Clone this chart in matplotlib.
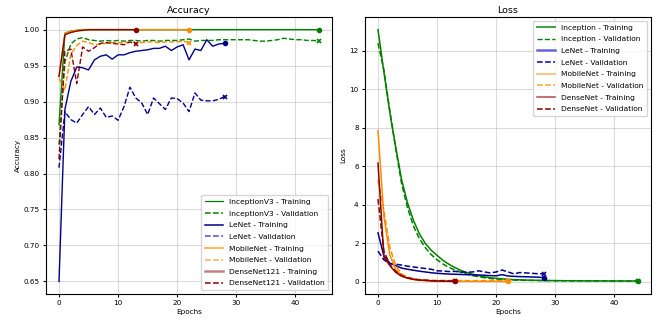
"""Accuracy / loss curves for the four CNN models."""

import matplotlib.pyplot as plt
from matplotlib.lines import Line2D

plt.rcParams["font.size"] = 5.2

# ---- accuracy ----
inc_train_acc = [0.868, 0.995, 0.998, 0.999] + [1.0] * 41
inc_val_acc = [
    0.840, 0.955, 0.980, 0.987, 0.989, 0.986, 0.985, 0.984, 0.985, 0.984,
    0.985, 0.984, 0.985, 0.985, 0.984, 0.985, 0.985, 0.984, 0.985, 0.985,
    0.985, 0.986, 0.987, 0.984, 0.985, 0.985, 0.985, 0.986, 0.986, 0.986,
    0.986, 0.986, 0.986, 0.985, 0.984, 0.984, 0.985, 0.986, 0.988, 0.987,
    0.986, 0.986, 0.985, 0.985, 0.984,
]
lenet_train_acc = [
    0.650, 0.889, 0.928, 0.948, 0.947, 0.944, 0.958, 0.963, 0.965, 0.959,
    0.965, 0.965, 0.968, 0.970, 0.971, 0.972, 0.974, 0.974, 0.977, 0.971,
    0.976, 0.979, 0.958, 0.973, 0.971, 0.986, 0.977, 0.980, 0.981,
]
lenet_val_acc = [
    0.808, 0.886, 0.875, 0.870, 0.882, 0.893, 0.882, 0.891, 0.878, 0.880,
    0.874, 0.893, 0.920, 0.905, 0.898, 0.882, 0.905, 0.897, 0.889, 0.905,
    0.904, 0.898, 0.886, 0.912, 0.902, 0.901, 0.901, 0.903, 0.907,
]
mobile_train_acc = [0.935, 0.995, 0.998, 0.999] + [1.0] * 19
mobile_val_acc = [
    0.932, 0.916, 0.966, 0.978, 0.984, 0.982, 0.979, 0.980, 0.981, 0.982,
    0.982, 0.982, 0.983, 0.982, 0.982, 0.983, 0.983, 0.982, 0.983, 0.983,
    0.983, 0.984, 0.982,
]
dense_train_acc = [0.935, 0.993, 0.996, 0.998, 0.999] + [1.0] * 9
dense_val_acc = [
    0.820, 0.970, 0.973, 0.925, 0.976, 0.970, 0.975, 0.981, 0.982, 0.981,
    0.980, 0.979, 0.983, 0.980,
]

# ---- loss ----
inc_train_loss = [
    13.1, 10.9, 8.8, 7.0, 5.3, 4.1, 3.2, 2.5, 2.0, 1.65,
    1.38, 1.12, 0.92, 0.75, 0.60, 0.49, 0.40, 0.33, 0.27, 0.22,
    0.19, 0.16, 0.14, 0.12, 0.11, 0.10, 0.09, 0.085, 0.08, 0.075,
    0.07, 0.068, 0.065, 0.063, 0.06, 0.058, 0.056, 0.055, 0.054, 0.053,
    0.052, 0.051, 0.05, 0.05, 0.05,
]
inc_val_loss = [
    12.4, 11.0, 8.9, 6.9, 5.1, 3.85, 2.9, 2.25, 1.78, 1.42,
    1.15, 0.93, 0.76, 0.62, 0.50, 0.41, 0.33, 0.27, 0.22, 0.18,
    0.15, 0.13, 0.11, 0.10, 0.09, 0.085, 0.08, 0.075, 0.07, 0.068,
    0.065, 0.063, 0.06, 0.058, 0.057, 0.056, 0.055, 0.055, 0.054, 0.054,
    0.053, 0.053, 0.052, 0.052, 0.052,
]
lenet_train_loss = [
    2.55, 1.35, 0.98, 0.85, 0.72, 0.66, 0.61, 0.56, 0.52, 0.48,
    0.45, 0.43, 0.41, 0.40, 0.39, 0.38, 0.37, 0.36, 0.35, 0.33,
    0.32, 0.38, 0.31, 0.29, 0.28, 0.27, 0.26, 0.25, 0.23,
]
lenet_val_loss = [
    1.60, 1.15, 0.95, 0.92, 0.88, 0.82, 0.78, 0.74, 0.70, 0.66,
    0.58, 0.57, 0.54, 0.55, 0.52, 0.50, 0.52, 0.58, 0.52, 0.47,
    0.52, 0.62, 0.52, 0.42, 0.49, 0.47, 0.45, 0.43, 0.42,
]
mobile_train_loss = [
    7.85, 3.4, 1.4, 0.65, 0.35, 0.2, 0.13, 0.09, 0.07, 0.06,
    0.05, 0.045, 0.04, 0.04, 0.035, 0.035, 0.03, 0.03, 0.03, 0.03,
    0.03, 0.03, 0.03,
]
mobile_val_loss = [
    5.3, 3.7, 1.8, 0.85, 0.42, 0.25, 0.17, 0.12, 0.10, 0.09,
    0.08, 0.08, 0.075, 0.075, 0.07, 0.07, 0.07, 0.07, 0.07, 0.07,
    0.07, 0.07, 0.07,
]
dense_train_loss = [6.17, 1.3, 0.85, 0.5, 0.3, 0.2, 0.14, 0.1, 0.08, 0.06, 0.05, 0.04, 0.035, 0.03]
dense_val_loss = [4.3, 1.6, 0.9, 0.55, 0.33, 0.22, 0.15, 0.11, 0.09, 0.07, 0.06, 0.055, 0.05, 0.05]

acc_names = ["InceptionV3", "LeNet", "MobileNet", "DenseNet121"]
loss_names = ["Inception", "LeNet", "MobileNet", "DenseNet"]
colors = ["green", "darkblue", "darkorange", "darkred"]

acc_series = [
    (inc_train_acc, inc_val_acc),
    (lenet_train_acc, lenet_val_acc),
    (mobile_train_acc, mobile_val_acc),
    (dense_train_acc, dense_val_acc),
]
loss_series = [
    (inc_train_loss, inc_val_loss),
    (lenet_train_loss, lenet_val_loss),
    (mobile_train_loss, mobile_val_loss),
    (dense_train_loss, dense_val_loss),
]

# legend handle looks (colour, linestyle, width, alpha)
acc_handles = [
    ("green", "-", 0.9, 1.0), ("green", "--", 1.1, 1.0),
    ("darkblue", "-", 1.1, 1.0), ("mediumblue", "--", 1.1, 0.7),
    ("darkorange", "-", 1.1, 0.8), ("darkorange", "--", 1.1, 0.7),
    ("darkred", "-", 1.8, 0.5), ("darkred", "--", 1.1, 1.0),
]
loss_handles = [
    ("green", "-", 1.4, 0.75), ("green", "--", 1.0, 1.0),
    ("mediumblue", "-", 1.8, 0.6), ("mediumblue", "--", 1.1, 1.0),
    ("darkorange", "-", 1.4, 0.5), ("darkorange", "--", 1.1, 0.8),
    ("darkred", "-", 1.1, 0.7), ("darkred", "--", 1.1, 1.0),
]


def draw_panel(ax, series, names, handles, title, ylabel, loc, lw):
    for (train, val), color in zip(series, colors):
        ep = list(range(len(train)))
        ax.plot(ep, train, "-", color=color, linewidth=lw)
        ax.plot(ep, val, "--", color=color, linewidth=lw)
        ax.plot(ep[-1], train[-1], "o", color=color, markersize=3)
        ax.plot(ep[-1], val[-1], "x", color=color, markersize=3, markeredgewidth=1.2)

    labels = []
    for n in names:
        labels += [f"{n} - Training", f"{n} - Validation"]
    lines = [Line2D([], [], color=c, linestyle=ls, linewidth=w, alpha=a) for c, ls, w, a in handles]
    ax.legend(lines, labels, loc=loc, fontsize=5.4, handlelength=2.4,
              labelspacing=0.72, borderpad=0.5)

    ax.set_title(title, fontsize=6.8, pad=3)
    ax.set_xlabel("Epochs", labelpad=2)
    ax.set_ylabel(ylabel, labelpad=2)
    ax.grid(True, alpha=0.45)
    ax.tick_params(length=2.5, pad=2)


fig, axes = plt.subplots(1, 2, figsize=(6.57, 3.22), dpi=100)
draw_panel(axes[0], acc_series, acc_names, acc_handles, "Accuracy", "Accuracy", "lower right", 1.0)
draw_panel(axes[1], loss_series, loss_names, loss_handles, "Loss", "Loss", "upper right", 1.1)

plt.subplots_adjust(left=0.070, right=0.991, bottom=0.087, top=0.947, wspace=0.115)
plt.savefig("out.png", dpi=100)
plt.close(fig)
